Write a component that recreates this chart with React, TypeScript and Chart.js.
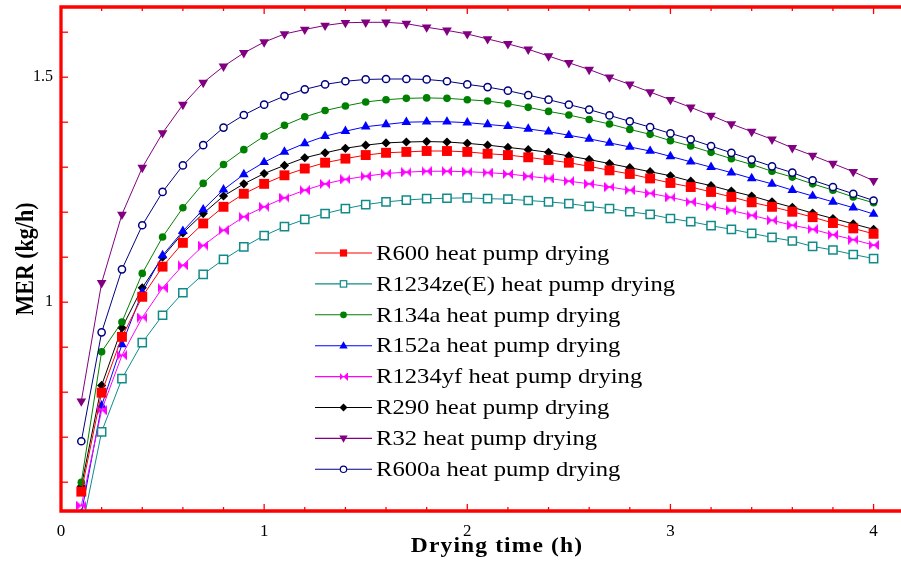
import React, { useEffect, useRef } from 'react';
import { Chart, registerables } from 'chart.js';

Chart.register(...registerables);

// ---------------- data ----------------
const dryingTime = [
  0.1, 0.2, 0.3, 0.4, 0.5, 0.6, 0.7, 0.8, 0.9, 1.0,
  1.1, 1.2, 1.3, 1.4, 1.5, 1.6, 1.7, 1.8, 1.9, 2.0,
  2.1, 2.2, 2.3, 2.4, 2.5, 2.6, 2.7, 2.8, 2.9, 3.0,
  3.1, 3.2, 3.3, 3.4, 3.5, 3.6, 3.7, 3.8, 3.9, 4.0,
];

const merR600 = [
  0.579, 0.799, 0.923, 1.012, 1.079, 1.132, 1.175, 1.212, 1.241, 1.263,
  1.282, 1.297, 1.310, 1.319, 1.327, 1.332, 1.334, 1.336, 1.336, 1.334,
  1.330, 1.327, 1.322, 1.316, 1.310, 1.302, 1.293, 1.285, 1.275, 1.265,
  1.256, 1.245, 1.234, 1.222, 1.212, 1.201, 1.189, 1.176, 1.164, 1.152,
];
const merR1234zeE = [
  0.490, 0.712, 0.830, 0.910, 0.971, 1.021, 1.062, 1.095, 1.123, 1.148,
  1.168, 1.184, 1.197, 1.208, 1.217, 1.223, 1.227, 1.230, 1.231, 1.232,
  1.230, 1.229, 1.226, 1.223, 1.219, 1.213, 1.208, 1.201, 1.195, 1.186,
  1.179, 1.170, 1.162, 1.153, 1.144, 1.136, 1.124, 1.116, 1.106, 1.097,
];
const merR134a = [
  0.600, 0.890, 0.956, 1.064, 1.145, 1.210, 1.264, 1.306, 1.339, 1.369,
  1.393, 1.412, 1.426, 1.436, 1.445, 1.450, 1.453, 1.454, 1.453, 1.450,
  1.447, 1.441, 1.433, 1.424, 1.416, 1.406, 1.396, 1.384, 1.373, 1.359,
  1.347, 1.333, 1.319, 1.306, 1.291, 1.278, 1.263, 1.249, 1.234, 1.221,
];
const merR152a = [
  0.530, 0.770, 0.906, 1.022, 1.104, 1.158, 1.206, 1.250, 1.284, 1.311,
  1.334, 1.353, 1.369, 1.380, 1.390, 1.395, 1.400, 1.401, 1.401, 1.399,
  1.395, 1.391, 1.385, 1.379, 1.371, 1.363, 1.354, 1.345, 1.336, 1.324,
  1.312, 1.300, 1.288, 1.275, 1.263, 1.249, 1.236, 1.223, 1.210, 1.196,
];
const merR1234yf = [
  0.548, 0.760, 0.882, 0.966, 1.032, 1.082, 1.126, 1.160, 1.190, 1.212,
  1.232, 1.249, 1.263, 1.273, 1.280, 1.286, 1.289, 1.291, 1.291, 1.290,
  1.288, 1.285, 1.280, 1.275, 1.269, 1.263, 1.256, 1.249, 1.242, 1.233,
  1.223, 1.213, 1.204, 1.193, 1.182, 1.171, 1.162, 1.150, 1.139, 1.127,
];
const merR290 = [
  0.591, 0.815, 0.943, 1.032, 1.100, 1.154, 1.197, 1.236, 1.263, 1.286,
  1.304, 1.321, 1.332, 1.342, 1.349, 1.354, 1.356, 1.357, 1.356, 1.353,
  1.349, 1.344, 1.339, 1.333, 1.325, 1.317, 1.308, 1.299, 1.290, 1.281,
  1.269, 1.259, 1.247, 1.236, 1.223, 1.211, 1.198, 1.186, 1.174, 1.162,
];
const merR32 = [
  0.780, 1.043, 1.195, 1.299, 1.376, 1.439, 1.488, 1.524, 1.554, 1.578,
  1.596, 1.606, 1.615, 1.621, 1.622, 1.622, 1.619, 1.611, 1.604, 1.596,
  1.585, 1.574, 1.562, 1.547, 1.532, 1.517, 1.500, 1.484, 1.467, 1.450,
  1.433, 1.415, 1.396, 1.379, 1.362, 1.343, 1.326, 1.308, 1.290, 1.270,
];
const merR600a = [
  0.691, 0.933, 1.073, 1.171, 1.245, 1.304, 1.349, 1.388, 1.416, 1.439,
  1.458, 1.473, 1.484, 1.491, 1.495, 1.496, 1.496, 1.495, 1.491, 1.484,
  1.478, 1.470, 1.460, 1.450, 1.439, 1.428, 1.415, 1.402, 1.389, 1.375,
  1.362, 1.347, 1.332, 1.317, 1.302, 1.288, 1.271, 1.256, 1.241, 1.226,
];

const seriesLabels = [
  'R600 heat pump drying',
  'R1234ze(E) heat pump drying',
  'R134a heat pump drying',
  'R152a heat pump drying',
  'R1234yf heat pump drying',
  'R290 heat pump drying',
  'R32 heat pump drying',
  'R600a heat pump drying',
];
const seriesValues = [merR600, merR1234zeE, merR134a, merR152a, merR1234yf, merR290, merR32, merR600a];

const xTitle = 'Drying time (h)';
const yTitle = 'MER (kg/h)';
const xMin = 0;
const xMax = 4.135;
const xStep = 0.2;
const yMin = 0.536;
const yMax = 1.656;
const yStep = 0.1;
const yLabelled = [1, 1.5];

// ---------------- styles ----------------
const FONT = "'Liberation Serif', 'Times New Roman', serif";
const AXIS_RED = '#ff0000';

type Marker = 'rect' | 'rectOpen' | 'circle' | 'circleOpen' | 'triangle' | 'triangleDown' | 'diamond' | 'bowtie';
const seriesStyles: { color: string; marker: Marker; size: number; order: number }[] = [
  { color: '#ff0000', marker: 'rect', size: 7, order: 0 },
  { color: '#118a8a', marker: 'rectOpen', size: 5.8, order: 1 },
  { color: '#008000', marker: 'circle', size: 3.8, order: 2 },
  { color: '#0000ff', marker: 'triangle', size: 5.6, order: 4 },
  { color: '#ff00ff', marker: 'bowtie', size: 5, order: 3 },
  { color: '#000000', marker: 'diamond', size: 4.6, order: 5 },
  { color: '#800080', marker: 'triangleDown', size: 5.6, order: 6 },
  { color: '#000080', marker: 'circleOpen', size: 3.6, order: -1 },
];

function makeBowtie(color: string, w: number, h: number) {
  const c = document.createElement('canvas');
  c.width = w;
  c.height = h;
  const g = c.getContext('2d')!;
  g.fillStyle = color;
  g.beginPath();
  g.moveTo(0, 0);
  g.lineTo(w / 2, h / 2);
  g.lineTo(0, h);
  g.closePath();
  g.moveTo(w, 0);
  g.lineTo(w / 2, h / 2);
  g.lineTo(w, h);
  g.closePath();
  g.fill();
  g.fillRect(0, h / 2 - 0.7, w, 1.4);
  return c;
}

function drawLegendMarker(ctx: CanvasRenderingContext2D, marker: Marker, color: string, x: number, y: number, bow: HTMLCanvasElement) {
  ctx.save();
  ctx.fillStyle = color;
  ctx.strokeStyle = color;
  ctx.lineWidth = 1.2;
  ctx.beginPath();
  switch (marker) {
    case 'rect':
      ctx.fillRect(x - 3.6, y - 3.6, 7.2, 7.2);
      break;
    case 'rectOpen':
      ctx.fillStyle = '#fff';
      ctx.fillRect(x - 3.2, y - 3.2, 6.4, 6.4);
      ctx.strokeRect(x - 3.2, y - 3.2, 6.4, 6.4);
      break;
    case 'circle':
      ctx.arc(x, y, 3.4, 0, Math.PI * 2);
      ctx.fill();
      break;
    case 'circleOpen':
      ctx.arc(x, y, 3.2, 0, Math.PI * 2);
      ctx.fillStyle = '#fff';
      ctx.fill();
      ctx.stroke();
      break;
    case 'triangle':
      ctx.moveTo(x, y - 4.4);
      ctx.lineTo(x + 4.2, y + 2.8);
      ctx.lineTo(x - 4.2, y + 2.8);
      ctx.closePath();
      ctx.fill();
      break;
    case 'triangleDown':
      ctx.moveTo(x, y + 4.4);
      ctx.lineTo(x + 4.2, y - 2.8);
      ctx.lineTo(x - 4.2, y - 2.8);
      ctx.closePath();
      ctx.fill();
      break;
    case 'diamond':
      ctx.moveTo(x, y - 4);
      ctx.lineTo(x + 4, y);
      ctx.lineTo(x, y + 4);
      ctx.lineTo(x - 4, y);
      ctx.closePath();
      ctx.fill();
      break;
    case 'bowtie':
      ctx.drawImage(bow, x - 4, y - 4, 8, 8);
      break;
  }
  ctx.restore();
}

function isMultiple(v: number, step: number) {
  const k = v / step;
  return Math.abs(k - Math.round(k)) < 1e-6;
}

function zeroPadding(s: any) {
  s.paddingLeft = 0;
  s.paddingRight = 0;
  s.paddingTop = 0;
  s.paddingBottom = 0;
}

export default function App() {
  const canvasRef = useRef<HTMLCanvasElement | null>(null);

  useEffect(() => {
    const canvas = canvasRef.current;
    if (!canvas) return;

    const bowtie = makeBowtie('#ff00ff', 10, 10);
    const legendBowtie = makeBowtie('#ff00ff', 16, 16);

    const datasets = seriesValues.map((vals, i) => {
      const st = seriesStyles[i];
      let pointStyle: any = 'circle';
      let rotation = 0;
      let bg = st.color;
      let bw = 0;
      switch (st.marker) {
        case 'rect': pointStyle = 'rect'; break;
        case 'rectOpen': pointStyle = 'rect'; bg = '#ffffff'; bw = 1.5; break;
        case 'circle': pointStyle = 'circle'; break;
        case 'circleOpen': pointStyle = 'circle'; bg = '#ffffff'; bw = 1.5; break;
        case 'triangle': pointStyle = 'triangle'; break;
        case 'triangleDown': pointStyle = 'triangle'; rotation = 180; break;
        case 'diamond': pointStyle = 'rectRot'; break;
        case 'bowtie': pointStyle = bowtie; break;
      }
      return {
        label: seriesLabels[i],
        data: dryingTime.map((t, j) => ({ x: t, y: vals[j] })),
        borderColor: st.color,
        backgroundColor: st.color,
        borderWidth: 1,
        pointStyle,
        pointRotation: rotation,
        pointRadius: st.size,
        pointBackgroundColor: bg,
        pointBorderColor: st.color,
        pointBorderWidth: bw,
        tension: 0,
        clip: 0,
        order: st.order,
      };
    });

    const decorPlugin = {
      id: 'decor',
      afterDraw(chart: any) {
        const { ctx, chartArea: a, scales } = chart;
        const xs = scales.x;
        const ys = scales.y;
        ctx.save();
        // inward ticks
        ctx.strokeStyle = AXIS_RED;
        ctx.lineWidth = 1.3;
        const seg = (x1: number, y1: number, x2: number, y2: number) => {
          ctx.beginPath();
          ctx.moveTo(x1, y1);
          ctx.lineTo(x2, y2);
          ctx.stroke();
        };
        xs.ticks.forEach((t: any) => {
          if (!isMultiple(t.value, xStep)) return;
          const px = xs.getPixelForValue(t.value);
          const len = isMultiple(t.value, 1) ? 7 : 4;
          seg(px, a.bottom, px, a.bottom - len);
          seg(px, a.top, px, a.top + len);
        });
        ys.ticks.forEach((t: any) => {
          if (!isMultiple(t.value, yStep)) return;
          const py = ys.getPixelForValue(t.value);
          seg(a.left, py, a.left + 7, py);
        });
        // frame
        ctx.lineWidth = 3.3;
        ctx.beginPath();
        ctx.moveTo(a.right + 3, a.top);
        ctx.lineTo(a.left, a.top);
        ctx.lineTo(a.left, a.bottom);
        ctx.lineTo(a.right + 3, a.bottom);
        ctx.stroke();

        // axis titles
        ctx.fillStyle = '#000';
        ctx.textBaseline = 'middle';
        ctx.textAlign = 'center';
        ctx.font = `bold 21px ${FONT}`;
        ctx.save();
        ctx.translate(497, 547);
        ctx.scale(1.12, 1);
        (ctx as any).letterSpacing = '1px';
        ctx.fillText(xTitle, 0, 0);
        ctx.restore();

        ctx.save();
        ctx.translate(27, (a.top + a.bottom) / 2);
        ctx.rotate(-Math.PI / 2);
        ctx.scale(1, 1.12);
        ctx.font = `bold 22px ${FONT}`;
        ctx.fillText(yTitle, 0, 0);
        ctx.restore();

        // legend
        ctx.textAlign = 'left';
        ctx.font = `22px ${FONT}`;
        const lx0 = 315;
        const lx1 = 372;
        const tx = 376;
        const ly0 = 253;
        const dy = 30.9;
        seriesLabels.forEach((lab, i) => {
          const st = seriesStyles[i];
          const y = ly0 + i * dy;
          ctx.strokeStyle = st.color;
          ctx.lineWidth = 1.1;
          seg(lx0, y, lx1, y);
          drawLegendMarker(ctx, st.marker, st.color, (lx0 + lx1) / 2, y, legendBowtie);
          ctx.save();
          ctx.translate(tx, y + 1);
          ctx.scale(1.12, 1);
          ctx.fillStyle = '#000';
          ctx.fillText(lab, 0, 0);
          ctx.restore();
        });
        ctx.restore();
      },
    };

    const chart = new Chart(canvas, {
      type: 'line',
      data: { datasets: datasets as any },
      plugins: [decorPlugin],
      options: {
        animation: false,
        responsive: false,
        maintainAspectRatio: false,
        events: [],
        layout: { autoPadding: false, padding: { left: 0, top: 7, right: 0, bottom: 0 } },
        plugins: {
          legend: { display: false },
          tooltip: { enabled: false },
          title: { display: false },
        },
        scales: {
          x: {
            type: 'linear',
            min: xMin,
            max: xMax,
            grid: { display: false, drawTicks: false },
            border: { display: false },
            afterFit: (s: any) => { s.height = 52; zeroPadding(s); },
            ticks: {
              stepSize: xStep,
              maxTicksLimit: 100,
              includeBounds: false,
              autoSkip: false,
              maxRotation: 0,
              minRotation: 0,
              padding: 10,
              color: '#000',
              font: { family: FONT, size: 17 },
              callback: (v: any) => (isMultiple(Number(v), 1) ? String(Math.round(Number(v))) : ''),
            },
          },
          y: {
            type: 'linear',
            min: yMin,
            max: yMax,
            grid: { display: false, drawTicks: false },
            border: { display: false },
            afterFit: (s: any) => { s.width = 61; zeroPadding(s); },
            ticks: {
              stepSize: yStep,
              maxTicksLimit: 100,
              includeBounds: false,
              autoSkip: false,
              padding: 8,
              color: '#000',
              font: { family: FONT, size: 16 },
              callback: (v: any) => {
                const n = Number(v);
                return yLabelled.some((l) => Math.abs(l - n) < 1e-6) ? String(n) : '';
              },
            },
          },
        },
      } as any,
    });

    return () => chart.destroy();
  }, []);

  return (
    <div style={{ position: 'fixed', left: 0, top: 0, width: 901, height: 563, background: '#fff', overflow: 'hidden' }}>
      <canvas ref={canvasRef} width={901} height={563} style={{ display: 'block', width: 901, height: 563 }} />
    </div>
  );
}
